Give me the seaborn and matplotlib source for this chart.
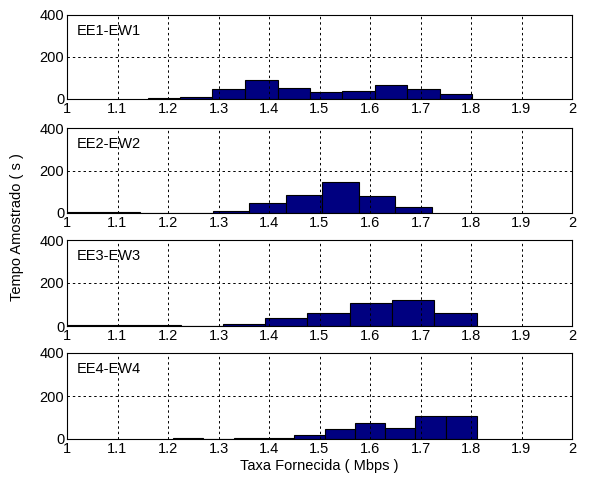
import numpy as np
import matplotlib
matplotlib.use("Agg")
import matplotlib.pyplot as plt
import seaborn as sns

# --- data ---
labels = ["EE1-EW1", "EE2-EW2", "EE3-EW3", "EE4-EW4"]

edges_1 = [1.160, 1.224, 1.288, 1.353, 1.417, 1.481, 1.545, 1.609, 1.674, 1.738, 1.802]
counts_1 = [3, 10, 46, 92, 51, 32, 40, 68, 46, 25]

edges_2 = [1.000, 1.072, 1.144, 1.217, 1.289, 1.361, 1.433, 1.505, 1.578, 1.650, 1.722]
counts_2 = [3, 3, 0, 2, 10, 48, 85, 144, 78, 30]

edges_3 = [0.974, 1.058, 1.141, 1.225, 1.309, 1.392, 1.476, 1.560, 1.643, 1.727, 1.811]
counts_3 = [3, 3, 3, 0, 8, 36, 59, 108, 119, 61]

edges_4 = [1.210, 1.270, 1.330, 1.390, 1.450, 1.510, 1.570, 1.630, 1.690, 1.750, 1.811]
counts_4 = [5, 0, 3, 5, 17, 45, 76, 51, 109, 109]

x_ticks = [1, 1.1, 1.2, 1.3, 1.4, 1.5, 1.6, 1.7, 1.8, 1.9, 2]
x_ticklabels = ["1", "1.1", "1.2", "1.3", "1.4", "1.5", "1.6", "1.7", "1.8", "1.9", "2"]
y_ticks = [0, 200, 400]

all_edges = [edges_1, edges_2, edges_3, edges_4]
all_counts = [counts_1, counts_2, counts_3, counts_4]

# --- style ---
sns.set_style("white")
plt.rcParams['font.family'] = ['Liberation Sans', 'DejaVu Sans']
plt.rcParams['font.size'] = 10
plt.rcParams['text.color'] = 'black'
plt.rcParams['axes.labelcolor'] = 'black'

W, H = 615, 482
fig = plt.figure(figsize=(W / 100, H / 100), dpi=100)

# panel boxes in pixels (top, bottom)
boxes = [(15, 99), (128, 213), (240, 326), (353, 439)]
left_px, right_px = 67, 572

for i, (top, bot) in enumerate(boxes):
    ax = fig.add_axes([left_px / W, 1 - bot / H, (right_px - left_px) / W, (bot - top) / H])
    edges = all_edges[i]
    counts = all_counts[i]
    centers = [(edges[k] + edges[k + 1]) / 2 for k in range(len(counts))]
    sns.histplot(x=centers, weights=counts, bins=edges, ax=ax,
                 color="#000080", edgecolor="black", linewidth=0.8, alpha=1)
    ax.set_xlim(1, 2)
    ax.set_ylim(0, 400)
    ax.set_xticks(x_ticks)
    ax.set_xticklabels(x_ticklabels)
    ax.set_yticks(y_ticks)
    ax.grid(True, color="black", linestyle=(0, (2.5, 3)), linewidth=0.7)
    ax.set_axisbelow(False)
    for s in ax.spines.values():
        s.set_color("black")
        s.set_linewidth(0.8)
    ax.tick_params(direction="in", length=3, colors="black", labelsize=10.5, pad=2)
    ax.set_xlabel("")
    ax.set_ylabel("")
    ax.text(1.02, 324, labels[i], ha="left", va="center", fontsize=10.5, color="black")
    if i == 3:
        ax.set_xlabel("Taxa Fornecida ( Mbps )", fontsize=10.5, labelpad=2, color="black")

fig.text(17 / W, 1 - 227 / H, "Tempo Amostrado ( s )", rotation=90,
         ha="center", va="center", fontsize=10.5, color="black")

fig.savefig("out.png", dpi=100, facecolor="white")
